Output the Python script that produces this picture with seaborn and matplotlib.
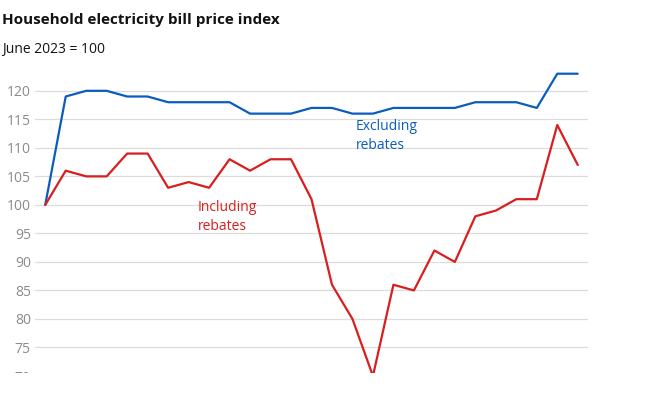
import numpy as np
import pandas as pd
import seaborn as sns
import matplotlib.pyplot as plt
from matplotlib.patches import Rectangle

# monthly index values, June 2023 = 100
months = list(range(27))
excluding = [100, 119, 120, 120, 119, 119, 118, 118, 118, 118, 116, 116, 116, 117,
             117, 116, 116, 117, 117, 117, 117, 118, 118, 118, 117, 123, 123]
including = [100, 106, 105, 105, 109, 109, 103, 104, 103, 108, 106, 108, 108, 101,
             86, 80, 70, 86, 85, 92, 90, 98, 99, 101, 101, 114, 107]
yticks = [70, 75, 80, 85, 90, 95, 100, 105, 110, 115, 120]

df = pd.DataFrame({
    "month": months * 2,
    "index": excluding + including,
    "series": ["Excluding rebates"] * 27 + ["Including rebates"] * 27,
})

sns.set_style("white")
plt.rcParams["font.family"] = ["Open Sans", "DejaVu Sans"]

blue = "#0a5cbf"
red = "#d81e1e"

fig = plt.figure(figsize=(6.48, 4.12), dpi=100)
ax = fig.add_axes([35 / 648, 1 - 376 / 412, 553 / 648, 308 / 412])

sns.lineplot(data=df, x="month", y="index", hue="series",
             palette={"Excluding rebates": blue, "Including rebates": red},
             linewidth=1.6, legend=False, ax=ax)

ax.set_xlim(-0.5, 26.5)
ax.set_ylim(70, 124)
ax.set_yticks(yticks)
ax.set_xticks([])
ax.set_xlabel("")
ax.set_ylabel("")
ax.grid(axis="y", color="#dcdcdc", linewidth=0.9)
ax.set_axisbelow(True)
for s in ax.spines.values():
    s.set_visible(False)
ax.tick_params(axis="y", length=0, pad=3, labelsize=10, labelcolor="#8a8a8a")

ax.text(15.17, 115.0, "Excluding\nrebates", color=blue, fontsize=10,
        va="top", ha="left", linespacing=1.3)
ax.text(7.46, 100.8, "Including\nrebates", color=red, fontsize=10,
        va="top", ha="left", linespacing=1.3)

fig.text(2 / 648, 1 - 20 / 412, "Household electricity bill price index",
         fontsize=11, fontweight="bold", color="#121212", va="center")
fig.text(2 / 648, 1 - 50 / 412, "June 2023 = 100", fontsize=10,
         color="#121212", va="center")

# the bottom of the chart is cut off in the original
fig.add_artist(Rectangle((0, 0), 1, (412 - 373) / 412, transform=fig.transFigure,
                         facecolor="white", edgecolor="none", zorder=10))

fig.savefig("out.png", dpi=100)
